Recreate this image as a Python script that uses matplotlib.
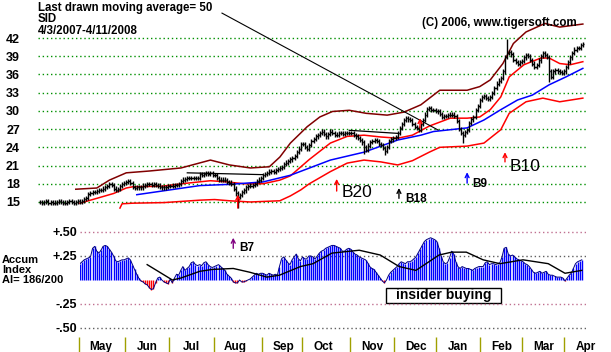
import numpy as np
import matplotlib.pyplot as plt
from matplotlib.patches import Rectangle
from matplotlib.transforms import blended_transform_factory

plt.rcParams['font.family'] = ['Liberation Sans', 'DejaVu Sans']

# daily closes, 4/3/2007 - 4/11/2008, one list per month
apr07 = [15.0, 14.9, 15.0, 15.1, 14.9, 15.0, 14.8, 14.9, 15.0, 15.1, 15.0, 14.9, 14.9, 15.0, 15.1, 15.0, 14.9, 15.0, 15.1]
may07 = [15.0, 15.1, 15.5, 15.6, 16.3, 16.5, 16.6, 16.7, 16.8, 17.0, 17.0, 17.2, 17.5, 17.6, 17.9, 17.8, 17.2, 17.0, 17.1, 17.6, 18.0, 18.1]
jun07 = [18.3, 18.4, 18.1, 17.5, 17.3, 17.4, 17.5, 17.4, 17.7, 17.8, 17.9, 17.9, 17.8, 17.9, 17.8, 17.7, 17.5, 17.4, 17.4, 17.5, 17.6]
jul07 = [17.6, 17.7, 17.8, 17.8, 17.9, 18.5, 18.7, 18.8, 18.9, 18.9, 19.0, 18.9, 18.9, 19.0, 19.6, 19.5, 19.6, 19.7, 19.6, 19.7, 19.4]
aug07 = [19.4, 19.0, 18.7, 18.6, 18.7, 18.6, 18.3, 18.2, 18.0, 17.2, 16.4, 15.9, 16.1, 16.6, 16.9, 17.4, 17.6, 17.7, 17.8, 18.0, 18.4, 18.7, 19.0]
sep07 = [19.4, 19.6, 19.8, 20.0, 20.1, 20.0, 20.3, 20.4, 20.6, 20.8, 21.2, 21.5, 21.8, 22.0, 22.3, 22.6, 23.2, 23.8, 24.6]
oct07 = [24.5, 24.0, 23.8, 24.4, 25.1, 25.4, 25.8, 26.0, 26.3, 26.6, 26.2, 25.8, 26.2, 26.6, 26.4, 26.0, 26.1, 26.3, 26.4, 26.2, 26.4, 26.3, 26.4]
nov07 = [26.3, 26.0, 25.8, 25.5, 25.2, 24.8, 24.1, 23.5, 24.3, 24.9, 25.1, 25.2, 25.0, 24.6, 24.4, 23.9, 23.4, 24.0, 25.0, 25.3, 25.5]
dec07 = [25.7, 26.3, 27.2, 27.8, 28.5, 28.8, 28.6, 28.5, 27.9, 27.4, 27.2, 26.9, 27.8, 28.5, 29.4, 30.3, 30.4, 30.2, 30.2, 30.0]
jan08 = [29.9, 29.5, 29.0, 29.1, 29.2, 29.3, 29.4, 29.4, 29.2, 28.3, 27.0, 26.4, 26.0, 26.5, 26.9, 28.0, 28.6, 29.0, 30.2, 30.8, 31.8]
feb08 = [32.3, 32.5, 32.1, 32.0, 32.3, 33.0, 33.8, 34.5, 35.0, 35.4, 36.5, 38.9, 39.5, 39.7, 39.3, 38.4, 38.0, 37.8, 38.0, 38.2]
mar08 = [38.8, 39.2, 39.0, 38.4, 37.8, 37.2, 37.5, 38.3, 39.0, 39.5, 39.2, 38.9, 36.5, 35.6, 36.5, 36.7, 36.5, 36.4, 36.2, 36.5]
apr08 = [37.2, 38.1, 38.8, 39.5, 40.1, 40.3, 40.4, 40.8, 41.0]
month_data = [apr07, may07, jun07, jul07, aug07, sep07, oct07, nov07, dec07, jan08, feb08, mar08, apr08]
month_names = ['May', 'Jun', 'Jul', 'Aug', 'Sep', 'Oct', 'Nov', 'Dec', 'Jan', 'Feb', 'Mar', 'Apr']

# intraday extremes that stick out of the bars
spike_high = {222: 41.9}
spike_low = {94: 14.0, 154: 22.9, 164: 22.7, 201: 24.7, 242: 34.7}

# bands / averages (day index, price)
upper_days = [17, 27, 33, 41, 52, 67, 81, 90, 100, 109, 114, 119, 127, 133, 139, 147, 155, 165, 173, 181, 190, 203, 209, 214, 220, 225, 231, 240, 247, 258]
upper_vals = [17.1, 17.3, 18.6, 19.8, 20.1, 20.6, 21.9, 21.1, 20.6, 20.8, 22.4, 24.7, 27.4, 29.0, 29.9, 30.1, 29.6, 29.3, 29.8, 31.0, 33.4, 33.4, 34.0, 35.1, 37.8, 41.1, 43.0, 44.4, 43.8, 44.3]
mid_days = [19, 27, 35, 41, 44, 58, 70, 81, 89, 97, 106, 114, 119, 128, 138, 146, 154, 162, 170, 177, 185, 195, 203, 209, 214, 219, 223, 230, 238, 242, 247, 252, 258]
mid_vals = [14.8, 15.6, 16.4, 17.3, 17.5, 17.6, 18.1, 18.5, 18.3, 18.0, 18.0, 18.6, 19.3, 22.0, 24.7, 25.8, 26.0, 25.7, 25.5, 26.0, 27.5, 28.8, 28.8, 29.0, 30.2, 32.3, 35.6, 37.6, 38.7, 38.7, 37.8, 37.6, 38.1]
ma50_days = [46, 76, 90, 106, 119, 138, 154, 170, 181, 187, 203, 211, 219, 227, 234, 242, 250, 258]
ma50_vals = [16.2, 17.7, 17.9, 18.3, 19.4, 21.9, 23.2, 25.2, 26.0, 26.6, 27.2, 28.5, 30.2, 31.8, 32.6, 34.3, 35.6, 37.0]
lower_days = [38, 39, 44, 59, 76, 83, 90, 100, 114, 119, 124, 128, 138, 146, 154, 162, 170, 177, 185, 190, 203, 211, 219, 223, 231, 239, 247, 258]
lower_vals = [14.0, 14.7, 14.8, 14.9, 15.3, 15.4, 15.2, 15.0, 15.2, 16.0, 17.0, 18.0, 20.0, 21.4, 21.9, 21.6, 21.1, 21.8, 23.2, 24.0, 24.2, 24.7, 26.9, 29.6, 31.5, 32.1, 31.5, 32.1]
seg_a_days, seg_a_vals = [70, 106], [19.8, 19.5]
seg_b_days, seg_b_vals = [147, 170], [26.8, 26.3]

# accumulation index, from the first trading day of May
ai_may = [0.17, 0.19, 0.21, 0.22, 0.23, 0.24, 0.33, 0.35, 0.30, 0.28, 0.31, 0.35, 0.36, 0.35, 0.32, 0.29, 0.25, 0.20, 0.19, 0.20, 0.21, 0.21]
ai_jun = [0.22, 0.23, 0.21, 0.16, 0.11, 0.06, 0.02, -0.01, -0.02, -0.04, -0.05, -0.08, -0.10, -0.09, -0.03, 0.02, 0.03, 0.0, -0.02, -0.03, -0.04]
ai_jul = [0.01, -0.03, 0.02, 0.06, 0.05, 0.10, 0.14, 0.10, 0.12, 0.14, 0.18, 0.19, 0.16, 0.15, 0.16, 0.15, 0.18, 0.19, 0.16, 0.14, 0.13]
ai_aug = [0.14, 0.15, 0.16, 0.14, 0.12, 0.10, 0.06, 0.04, 0.02, -0.02, -0.03, -0.03, 0.0, -0.02, -0.02, -0.01, 0.0, 0.01, 0.03, 0.05, 0.07, 0.06, 0.07]
ai_sep = [0.07, 0.06, 0.05, 0.07, 0.06, 0.05, 0.06, 0.05, 0.14, 0.22, 0.24, 0.21, 0.18, 0.16, 0.21, 0.24, 0.27, 0.22, 0.20]
ai_oct = [0.24, 0.22, 0.22, 0.25, 0.25, 0.24, 0.22, 0.25, 0.28, 0.30, 0.31, 0.33, 0.34, 0.35, 0.36, 0.36, 0.35, 0.34, 0.33, 0.30, 0.30, 0.32, 0.33]
ai_nov = [0.32, 0.29, 0.27, 0.26, 0.24, 0.23, 0.22, 0.21, 0.18, 0.14, 0.12, 0.11, 0.08, 0.05, 0.02, -0.01, -0.03, 0.0, 0.05, 0.08, 0.10]
ai_dec = [0.12, 0.14, 0.17, 0.19, 0.18, 0.17, 0.19, 0.19, 0.20, 0.22, 0.24, 0.28, 0.32, 0.36, 0.40, 0.42, 0.43, 0.44, 0.43, 0.42]
ai_jan = [0.40, 0.33, 0.25, 0.19, 0.17, 0.18, 0.23, 0.30, 0.27, 0.19, 0.14, 0.12, 0.14, 0.13, 0.12, 0.12, 0.11, 0.10, 0.12, 0.13, 0.14]
ai_feb = [0.14, 0.14, 0.18, 0.19, 0.16, 0.17, 0.17, 0.16, 0.17, 0.18, 0.24, 0.33, 0.34, 0.27, 0.25, 0.26, 0.24, 0.22, 0.21, 0.20]
ai_mar = [0.19, 0.17, 0.16, 0.14, 0.11, 0.08, 0.07, 0.08, 0.09, 0.07, 0.08, 0.09, 0.06, 0.05, 0.05, 0.04, 0.03, 0.03, 0.03, 0.02]
ai_apr = [-0.01, 0.02, 0.05, 0.07, 0.12, 0.17, 0.19, 0.20, 0.21]
ai_ma_days = [51, 57, 63, 67, 76, 82, 92, 100, 108, 114, 124, 130, 139, 152, 162, 171, 179, 190, 196, 203, 211, 219, 230, 242, 250, 258]
ai_ma_vals = [0.16, 0.08, 0.0, 0.02, 0.09, 0.11, 0.12, 0.08, 0.03, 0.05, 0.14, 0.17, 0.28, 0.31, 0.26, 0.14, 0.10, 0.26, 0.29, 0.29, 0.21, 0.17, 0.21, 0.17, 0.07, 0.10]

price_ticks = [15, 18, 21, 24, 27, 30, 33, 36, 39, 42]
ai_ticks = [0.5, 0.25, -0.25, -0.5]
ai_tick_labels = ['+.50', '+.25', '-.25', '-.50']

closes = np.concatenate([np.array(m, float) for m in month_data])
days = np.arange(len(closes))
month_len = [len(m) for m in month_data]
month_start = np.cumsum(month_len)[:-1]
ai = np.concatenate([ai_may, ai_jun, ai_jul, ai_aug, ai_sep, ai_oct, ai_nov, ai_dec, ai_jan, ai_feb, ai_mar, ai_apr])
ai_days = np.arange(month_start[0], month_start[0] + len(ai))

W, H = 611, 352
fig = plt.figure(figsize=(W / 100, H / 100), dpi=100)
fig.patch.set_facecolor('white')


def px_axes(l, t, r, b):
    return fig.add_axes([l / W, 1 - b / H, (r - l) / W, (b - t) / H])


bold = dict(fontweight='bold', fontsize=8.5)

# ---- price panel
ax = px_axes(38, 15, 586, 214)
ax.set_xlim(-0.95, 259.5)
ax.set_ylim(13.02, 45.79)
for s in ax.spines.values():
    s.set_visible(False)
ax.set_xticks([])
ax.set_yticks(price_ticks)
ax.set_yticklabels([str(t) for t in price_ticks], fontweight='bold', fontsize=9)
ax.tick_params(axis='y', length=0, pad=13)
for t in price_ticks:
    ax.axhline(t, color='#009000', lw=1, ls=(0, (1, 2)))

prev = np.r_[closes[0], closes[:-1]]
hi = np.maximum(closes, prev) + 0.35
lo = np.minimum(closes, prev) - 0.35
for d, v in spike_high.items():
    hi[d] = v
for d, v in spike_low.items():
    lo[d] = v

ax.plot(upper_days, upper_vals, color='#800000', lw=1.1)
ax.plot(lower_days, lower_vals, color='#ff0000', lw=1.1)
ax.plot(mid_days, mid_vals, color='#ff0000', lw=1.1)
ax.plot(ma50_days, ma50_vals, color='#0000ff', lw=1.1)
ax.plot(seg_a_days, seg_a_vals, color='black', lw=0.9)
ax.plot(seg_b_days, seg_b_vals, color='black', lw=0.9)

ax.vlines(days, lo, hi, color='black', lw=1)
ax.hlines(prev, days - 0.6, days, color='black', lw=1)
ax.hlines(closes, days, days + 0.6, color='black', lw=1)

# leader line from the caption
ax.plot([86.5, 189.2], [46.1, 26.85], color='black', lw=0.8, clip_on=False)


def arrow(a, x, y0, y1, c):
    a.annotate('', xy=(x, y1), xytext=(x, y0),
               arrowprops=dict(arrowstyle='->', color=c, lw=1, mutation_scale=7,
                               shrinkA=0, shrinkB=0))


arrow(ax, 141, 16.8, 18.8, 'red')
arrow(ax, 170.6, 15.6, 17.3, 'black')
arrow(ax, 203, 18.1, 19.9, 'blue')
arrow(ax, 221, 21.6, 23.2, 'red')
arrow(ax, 180.6, 27.2, 28.8, 'red')
arrow(ax, 94, 14.0, 16.2, 'red')
ax.text(143.5, 16.5, 'B20', fontsize=12.5, va='center', ha='left')
ax.text(223.4, 20.9, 'B10', fontsize=12.5, va='center', ha='left')
ax.text(173.5, 15.5, 'B18', va='center', ha='left', **bold)
ax.text(205.3, 18.0, 'B9', va='center', ha='left', **bold)

# ---- accumulation panel
ax2 = px_axes(80, 222, 586, 335)
ax2.set_xlim(19.01, 259.5)
ax2.set_ylim(-0.573, 0.604)
for s in ax2.spines.values():
    s.set_visible(False)
ax2.set_yticks(ai_ticks)
ax2.set_yticklabels(ai_tick_labels, fontweight='bold', fontsize=9)
ax2.tick_params(axis='y', length=0, pad=2)
for t, c in zip(ai_ticks, ['#c07090', '#606060', '#c07090', '#606060']):
    ax2.axhline(t, color=c, lw=1, ls=(0, (1, 2)))

bar_colors = np.where(ai >= 0, '#0000ff', '#ff0000')
ax2.vlines(ai_days, 0, ai, colors=bar_colors, lw=1)
ax2.plot(ai_days, ai, color='#000080', lw=0.7)
ax2.plot(ai_ma_days, ai_ma_vals, color='black', lw=1)

arrow(ax2, 92, 0.33, 0.44, '#800080')
ax2.text(95, 0.33, 'B7', va='center', ha='left', **bold)

ax2.add_patch(Rectangle((164.9, -0.24), 54.7, 0.157, fc='white', ec='black', lw=1))
ax2.text(192.2, -0.16, 'insider buying', ha='center', va='center', fontweight='bold', fontsize=10)

label_pos = month_start + 10
ax2.set_xticks(label_pos)
ax2.set_xticklabels(month_names, fontweight='bold', fontsize=8.5)
ax2.tick_params(axis='x', length=0, pad=4)
tr = blended_transform_factory(ax2.transData, ax2.transAxes)
ax2.vlines(month_start - 0.4, -0.02, -0.15, transform=tr, colors='#a0a000', lw=1, clip_on=False)

# ---- captions
def ftext(x, y, s, size=8.3):
    fig.text(x / W, 1 - y / H, s, va='baseline', ha='left', fontweight='bold', fontsize=size)


ftext(38, 10.5, 'Last drawn moving average= 50')
ftext(38, 22, 'SID')
ftext(38, 33.5, '4/3/2007-4/11/2008')
ftext(422, 26, '(C) 2006, www.tigersoft.com')
ftext(2, 263, 'Accum', 8)
ftext(2, 273, 'Index', 8)
ftext(2, 283, 'AI= 186/200', 8)

fig.savefig('out.png', dpi=100)
